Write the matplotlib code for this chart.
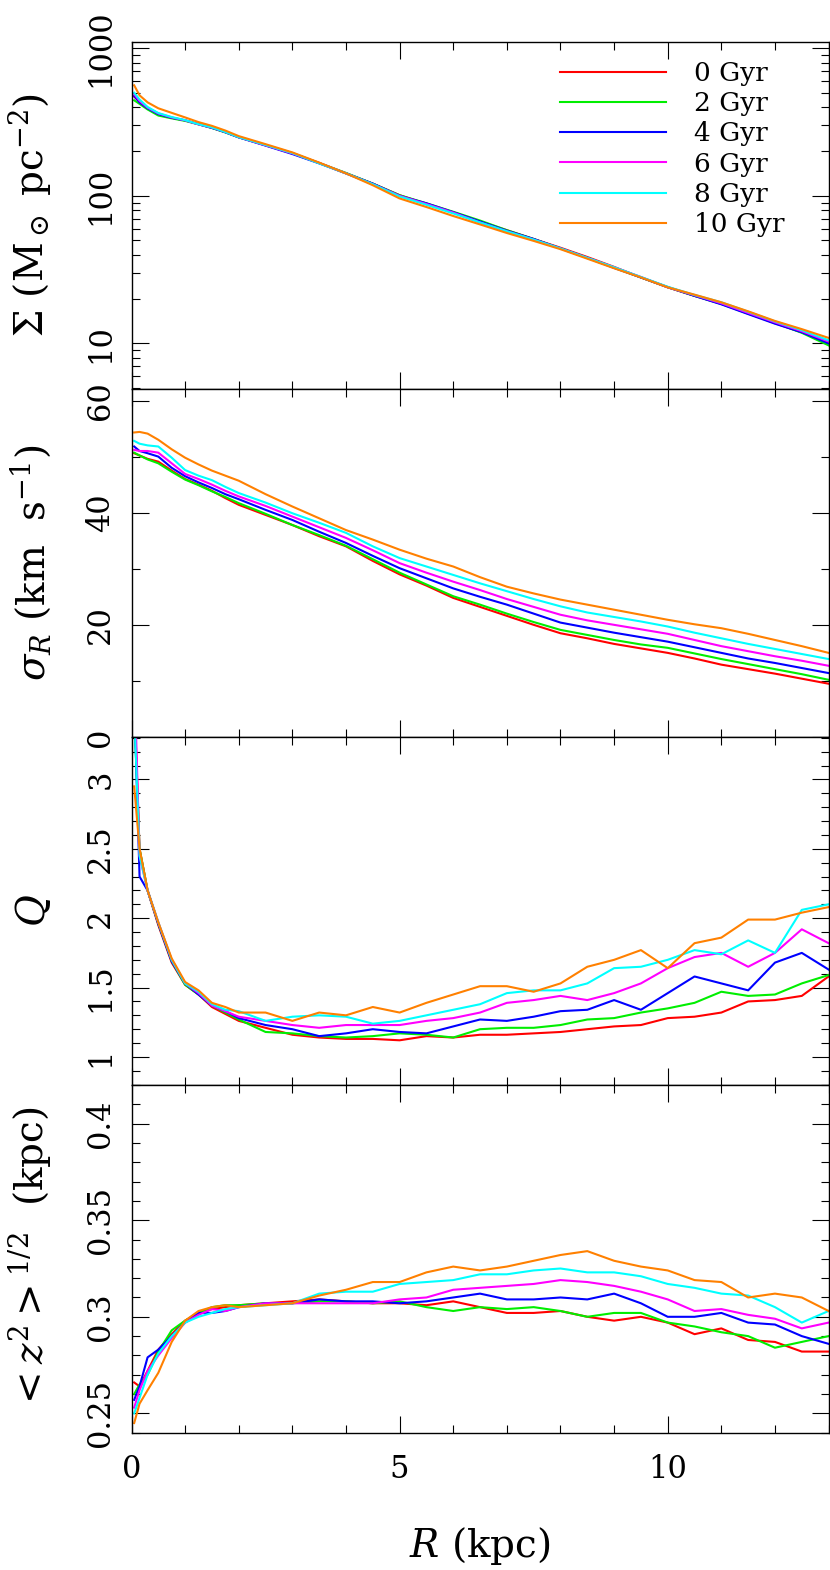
import numpy as np
import matplotlib
matplotlib.use("Agg")
import matplotlib.pyplot as plt
from matplotlib.ticker import MultipleLocator, LogLocator, FuncFormatter, NullFormatter

plt.rcParams['font.family'] = ['DejaVu Serif']
plt.rcParams['mathtext.fontset'] = 'dejavuserif'

# radius bins (kpc)
R = [0.05, 0.15, 0.3, 0.5, 0.75, 1.0, 1.25, 1.5, 1.75, 2.0, 2.5, 3.0, 3.5, 4.0, 4.5, 5.0,
     5.5, 6.0, 6.5, 7.0, 7.5, 8.0, 8.5, 9.0, 9.5, 10.0, 10.5, 11.0, 11.5, 12.0, 12.5, 13.0]

labels = ["0 Gyr", "2 Gyr", "4 Gyr", "6 Gyr", "8 Gyr", "10 Gyr"]
colors = ["#ff0000", "#00ee00", "#0000ff", "#ff00ff", "#00ffff", "#ff8000"]

# surface density (Msun pc^-2)
sigma_0 = [470, 435, 395, 360, 338, 324, 306, 289, 270, 250, 220, 194, 167, 142, 121, 101, 88, 77, 67, 58.5, 51, 44.5, 38.5, 33, 28, 24, 21, 18.6, 16, 13.7, 11.9, 10.1]
sigma_2 = [444, 420, 385, 350, 335, 322, 305, 288, 269, 249, 221, 195, 167, 143, 121, 101, 89, 78, 68, 58.5, 51, 44, 38, 32.6, 28, 24, 21, 18.5, 15.9, 13.8, 11.8, 9.7]
sigma_4 = [475, 430, 392, 358, 338, 325, 306, 289, 270, 249, 219, 192, 166, 142, 121, 100, 89, 77.5, 67, 58, 51, 44, 38, 32.5, 28, 24.1, 21, 18.4, 15.8, 13.6, 11.9, 10.0]
sigma_6 = [490, 440, 396, 362, 340, 325, 305, 290, 271, 250, 220, 194, 167, 142, 120, 100, 88, 77, 66, 57.5, 50.5, 44, 38, 32.8, 28.2, 24, 21.2, 18.7, 16.1, 13.9, 12.1, 10.3]
sigma_8 = [500, 450, 400, 364, 342, 326, 306, 291, 271, 250, 221, 195, 166, 142, 120, 99, 87, 76, 66, 57.5, 50.5, 44, 38, 32.8, 28.2, 24.2, 21.3, 19.0, 16.4, 14.1, 12.3, 10.5]
sigma_10 = [561, 480, 430, 392, 365, 340, 316, 298, 277, 254, 224, 197, 168, 142, 118, 96, 84, 73, 64, 56, 49.5, 43.5, 37.5, 32.3, 28, 24, 21.4, 19.0, 16.5, 14.2, 12.5, 10.9]

# radial velocity dispersion (km/s)
sigR_0 = [50.6, 50.2, 49.6, 49.1, 47.5, 46.0, 45.0, 43.9, 42.6, 41.4, 39.6, 37.8, 35.8, 34.0, 31.4, 29.0, 27.0, 24.8, 23.2, 21.6, 20.0, 18.5, 17.6, 16.6, 15.8, 15.0, 14.0, 12.9, 12.1, 11.3, 10.4, 9.5]
sigR_2 = [50.7, 50.2, 49.5, 48.8, 47.3, 45.9, 44.9, 43.8, 42.8, 41.7, 39.8, 37.8, 36.0, 34.1, 31.7, 29.3, 27.2, 25.1, 23.6, 22.0, 20.5, 19.1, 18.2, 17.3, 16.5, 15.9, 14.9, 13.9, 13.0, 12.1, 11.2, 10.2]
sigR_4 = [51.8, 51.0, 50.6, 50.0, 48.0, 46.5, 45.4, 44.4, 43.3, 42.4, 40.5, 38.7, 36.6, 34.6, 32.3, 30.1, 28.3, 26.5, 25.0, 23.6, 22.0, 20.4, 19.5, 18.6, 17.8, 17.0, 16.0, 15.0, 14.0, 13.2, 12.3, 11.4]
sigR_6 = [51.2, 51.0, 51.0, 50.7, 48.8, 46.9, 46.0, 45.0, 43.9, 42.9, 41.2, 39.3, 37.4, 35.5, 33.3, 31.0, 29.3, 27.7, 26.2, 24.6, 23.2, 21.8, 20.8, 20.0, 19.2, 18.4, 17.3, 16.2, 15.3, 14.4, 13.6, 12.7]
sigR_8 = [52.8, 52.3, 52.0, 51.8, 49.8, 47.6, 46.6, 45.8, 44.6, 43.5, 41.8, 39.9, 38.2, 36.4, 34.0, 31.9, 30.4, 28.9, 27.4, 26.0, 24.6, 23.3, 22.2, 21.4, 20.6, 19.7, 18.6, 17.6, 16.6, 15.7, 14.8, 13.9]
sigR_10 = [54.3, 54.4, 54.1, 53.0, 51.3, 49.8, 48.6, 47.5, 46.6, 45.7, 43.3, 41.1, 39.0, 36.9, 35.2, 33.4, 31.8, 30.4, 28.5, 26.8, 25.6, 24.5, 23.6, 22.7, 21.8, 20.9, 20.1, 19.4, 18.4, 17.3, 16.2, 15.0]

# Toomre Q
Q_0 = [3.6, 2.5, 2.2, 1.95, 1.68, 1.52, 1.45, 1.36, 1.31, 1.26, 1.21, 1.16, 1.14, 1.13, 1.13, 1.12, 1.15, 1.14, 1.16, 1.16, 1.17, 1.18, 1.20, 1.22, 1.23, 1.28, 1.29, 1.32, 1.40, 1.41, 1.44, 1.58]
Q_2 = [3.5, 2.5, 2.2, 1.96, 1.69, 1.52, 1.45, 1.37, 1.32, 1.27, 1.18, 1.17, 1.15, 1.14, 1.15, 1.17, 1.16, 1.14, 1.20, 1.21, 1.21, 1.23, 1.27, 1.28, 1.32, 1.35, 1.39, 1.47, 1.44, 1.45, 1.53, 1.59]
Q_4 = [3.6, 2.3, 2.2, 1.96, 1.69, 1.53, 1.45, 1.37, 1.33, 1.28, 1.23, 1.20, 1.15, 1.17, 1.20, 1.18, 1.17, 1.22, 1.27, 1.26, 1.29, 1.33, 1.34, 1.41, 1.34, 1.46, 1.58, 1.53, 1.48, 1.68, 1.75, 1.63]
Q_6 = [3.8, 2.45, 2.2, 1.97, 1.70, 1.53, 1.46, 1.37, 1.33, 1.29, 1.26, 1.23, 1.21, 1.23, 1.23, 1.23, 1.26, 1.28, 1.32, 1.39, 1.41, 1.44, 1.41, 1.46, 1.53, 1.64, 1.72, 1.75, 1.65, 1.75, 1.92, 1.82]
Q_8 = [3.5, 2.45, 2.2, 1.97, 1.70, 1.53, 1.47, 1.38, 1.34, 1.33, 1.26, 1.29, 1.30, 1.29, 1.24, 1.26, 1.30, 1.34, 1.38, 1.46, 1.48, 1.48, 1.53, 1.64, 1.65, 1.70, 1.77, 1.74, 1.84, 1.75, 2.06, 2.10]
Q_10 = [2.95, 2.5, 2.2, 1.97, 1.71, 1.54, 1.48, 1.39, 1.36, 1.32, 1.32, 1.26, 1.32, 1.30, 1.36, 1.32, 1.39, 1.45, 1.51, 1.51, 1.47, 1.53, 1.65, 1.70, 1.77, 1.64, 1.82, 1.86, 1.99, 1.99, 2.04, 2.08]

# rms thickness (kpc)
z_0 = [0.266, 0.264, 0.272, 0.283, 0.291, 0.298, 0.302, 0.304, 0.305, 0.306, 0.307, 0.308, 0.309, 0.308, 0.307, 0.307, 0.306, 0.308, 0.305, 0.302, 0.302, 0.303, 0.300, 0.298, 0.300, 0.297, 0.291, 0.294, 0.288, 0.287, 0.282, 0.282]
z_2 = [0.260, 0.265, 0.270, 0.282, 0.293, 0.298, 0.302, 0.305, 0.306, 0.306, 0.307, 0.307, 0.308, 0.308, 0.307, 0.308, 0.305, 0.303, 0.305, 0.304, 0.305, 0.303, 0.300, 0.302, 0.302, 0.297, 0.295, 0.292, 0.290, 0.284, 0.287, 0.290]
z_4 = [0.257, 0.264, 0.279, 0.283, 0.290, 0.297, 0.302, 0.302, 0.303, 0.305, 0.307, 0.307, 0.309, 0.308, 0.308, 0.307, 0.308, 0.310, 0.312, 0.309, 0.309, 0.310, 0.309, 0.312, 0.307, 0.300, 0.300, 0.302, 0.297, 0.296, 0.290, 0.286]
z_6 = [0.253, 0.262, 0.272, 0.280, 0.289, 0.297, 0.301, 0.304, 0.303, 0.305, 0.307, 0.307, 0.307, 0.307, 0.307, 0.309, 0.310, 0.314, 0.315, 0.316, 0.317, 0.319, 0.318, 0.316, 0.313, 0.309, 0.303, 0.304, 0.301, 0.299, 0.294, 0.297]
z_8 = [0.250, 0.258, 0.270, 0.281, 0.290, 0.297, 0.300, 0.302, 0.304, 0.305, 0.306, 0.307, 0.312, 0.313, 0.313, 0.317, 0.318, 0.319, 0.322, 0.322, 0.324, 0.325, 0.323, 0.323, 0.321, 0.317, 0.315, 0.312, 0.311, 0.305, 0.297, 0.303]
z_10 = [0.245, 0.255, 0.262, 0.271, 0.287, 0.298, 0.303, 0.305, 0.306, 0.305, 0.306, 0.307, 0.311, 0.314, 0.318, 0.318, 0.323, 0.326, 0.324, 0.326, 0.329, 0.332, 0.334, 0.329, 0.326, 0.324, 0.319, 0.318, 0.310, 0.312, 0.310, 0.303]

panels = [
    [sigma_0, sigma_2, sigma_4, sigma_6, sigma_8, sigma_10],
    [sigR_0, sigR_2, sigR_4, sigR_6, sigR_8, sigR_10],
    [Q_0, Q_2, Q_4, Q_6, Q_8, Q_10],
    [z_0, z_2, z_4, z_6, z_8, z_10],
]
ylabels = [r'$\Sigma$ (M$_\odot$ pc$^{-2}$)',
           r'$\sigma_R$ (km  s$^{-1}$)',
           r'$Q$',
           r'$<z^2>^{1/2}$  (kpc)']
ylims = [(4.88, 1108), (0, 62), (0.8, 3.306), (0.24, 0.42)]

W, H = 830, 1570
fig = plt.figure(figsize=(W / 100, H / 100), dpi=100)

left, right = 131.5, 828.6
tops = [41.7, 389.3, 737.0, 1085.0]
ph = 347.7

fmt = FuncFormatter(lambda v, p: '%g' % round(v, 4))

axes = []
for i in range(4):
    ax = fig.add_axes([left / W, 1 - (tops[i] + ph) / H, (right - left) / W, ph / H])
    axes.append(ax)
    for series, c, lab in zip(panels[i], colors, labels):
        ax.plot(R, series, color=c, lw=1.5, label=lab)
    ax.set_xlim(0, 13)
    if i == 0:
        ax.set_yscale('log')
        ax.yaxis.set_major_locator(LogLocator(base=10))
        ax.yaxis.set_minor_locator(LogLocator(base=10, subs=np.arange(2, 10)))
        ax.yaxis.set_minor_formatter(NullFormatter())
    elif i == 1:
        ax.yaxis.set_major_locator(MultipleLocator(20))
        ax.yaxis.set_minor_locator(MultipleLocator(10))
    elif i == 2:
        ax.yaxis.set_major_locator(MultipleLocator(0.5))
        ax.yaxis.set_minor_locator(MultipleLocator(0.1))
    else:
        ax.yaxis.set_major_locator(MultipleLocator(0.05))
        ax.yaxis.set_minor_locator(MultipleLocator(0.01))
    ax.yaxis.set_major_formatter(fmt)
    ax.set_ylim(*ylims[i])
    ax.xaxis.set_major_locator(MultipleLocator(5))
    ax.xaxis.set_minor_locator(MultipleLocator(1))
    ax.tick_params(which='both', direction='in', top=True, right=True, width=0.8, colors='black')
    ax.tick_params(which='major', length=12)
    ax.tick_params(which='minor', length=6)
    ax.tick_params(axis='y', labelsize=22, pad=11, labelrotation=90)
    ax.tick_params(axis='x', labelsize=22, pad=15, labelbottom=(i == 3))
    for t in ax.get_yticklabels():
        t.set_va('center')
    for s in ax.spines.values():
        s.set_linewidth(1.0)
    ax.set_ylabel(ylabels[i], fontsize=28)
    ax.yaxis.set_label_coords(-0.112, 0.5)

axes[0].legend(loc='upper left', bbox_to_anchor=(0.614, 0.945), frameon=False, fontsize=19,
               borderpad=0, borderaxespad=0, handlelength=4.05, handletextpad=1.06,
               labelspacing=0.2)

axes[3].set_xlabel(r'$R$ (kpc)', fontsize=28)
axes[3].xaxis.set_label_coords(0.5, -0.265)

fig.savefig("out.png", dpi=100)
